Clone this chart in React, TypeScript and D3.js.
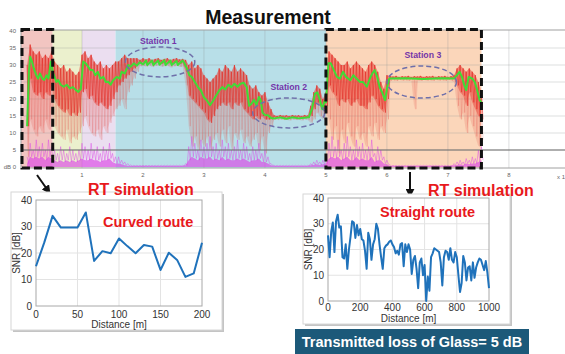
import React from "react";
import * as d3 from "d3";

const W = 565;
const H = 354;
const FONT = "'Liberation Sans', Arial, Helvetica, sans-serif";

// measured SNR, binned (min / dense band / max) every 0.05 x10^4 samples from 0.1
const binStart = 0.1;
const binStep = 0.05;

const redHi = [
  30, 36, 34, 33, 34, 32, 33, 32, 34, 31,
  30, 29, 30, 28, 29, 28, 27, 28, 33, 34,
  32, 33, 31, 30, 31, 29, 30, 29, 30, 31,
  31, 32, 33, 32, 32, 32, 32, 31.5, 32, 31.6,
  32, 31.5, 31.8, 32, 31.5, 31.8, 32, 31.5, 31.8, 32,
  31.6, 31.8, 31.5, 30, 31, 29, 30, 29, 27, 26,
  25, 26, 27, 29, 28, 30, 29, 28, 30, 28,
  29, 28, 27, 24, 23, 24, 22, 21, 22, 19,
  17, 15.2, 15.0, 15.3, 15.1, 15.2, 15.0, 15.3, 15.1, 15.2,
  15.0, 15.3, 15.1, 18, 22, 24, 23, 20, 22, 34,
  33, 32, 31, 30, 30, 31, 29, 30, 31, 30,
  29, 28, 30, 31, 30, 28, 25, 23, 27, 26.8,
  26.6, 26.8, 26.5, 26.7, 26.6, 26.8, 26.5, 26.7, 26.6, 26.8,
  26.5, 26.7, 26.6, 26.8, 26.5, 26.7, 26.6, 26.8, 26.5, 26.7,
  27, 29, 30, 29, 28, 29, 28, 27, 25, 22,
];
const redCore = [
  12, 26, 22, 21, 22, 20, 22, 21, 24, 20,
  18, 17, 16, 17, 15, 16, 15, 16, 22, 23,
  20, 21, 19, 18, 19, 18, 17, 18, 20, 22,
  24, 25, 26, 27, 28, 29, 30, 30.5, 30.8, 30.4,
  30.9, 30.3, 30.7, 30.9, 30.4, 30.6, 30.8, 30.2, 30.6, 30.8,
  30.4, 30.5, 28, 21, 20, 19, 18, 17, 16, 14,
  13, 15, 17, 18, 19, 18, 19, 17, 19, 18,
  19, 17, 16, 15, 14, 15, 14, 15, 14, 14,
  14, 14.6, 14.4, 14.7, 14.5, 14.6, 14.4, 14.7, 14.5, 14.6,
  14.4, 14.7, 14.5, 15, 17, 19, 18, 17, 18, 24,
  22, 21, 18, 20, 19, 20, 18, 19, 20, 18,
  18, 17, 19, 21, 20, 18, 17, 16, 20, 26,
  26, 26.1, 25.9, 26, 26.1, 25.9, 26, 26.1, 25.9, 26,
  26, 26.1, 25.9, 26, 26.1, 25.9, 26, 26.1, 25.9, 26,
  26, 24, 22, 21, 18, 22, 19, 17, 15, 14,
];
const redLo = [
  3, 14, 11, 9, 12, 10, 14, 11, 16, 12,
  10, 9, 8, 11, 7, 9, 8, 10, 12, 15,
  12, 10, 9, 11, 8, 12, 10, 13, 15, 17,
  18, 20, 17, 22, 24, 26, 28, 29.6, 29.8, 29.5,
  29.9, 29.4, 29.8, 29.9, 29.5, 29.6, 29.8, 29.3, 29.6, 29.8,
  29.4, 29.5, 24, 12, 6, 9, 5, 8, 6, 9,
  5, 8, 10, 6, 11, 7, 12, 5, 10, 8,
  11, 7, 9, 6, 8, 10, 5, 9, 4, 10,
  12, 13.9, 13.8, 14.0, 13.8, 13.9, 13.7, 14.0, 13.8, 13.9,
  13.7, 14.0, 13.8, 13, 14, 16, 15, 14, 16, 14,
  8, 12, 4, 11, 7, 13, 9, 6, 12, 8,
  10, 6, 12, 9, 13, 8, 12, 10, 14, 25.4,
  25.5, 25.3, 25.6, 25.4, 25.5, 25.3, 25.6, 17, 25.5, 25.3,
  25.6, 25.4, 25.5, 25.3, 25.6, 25.4, 25.5, 25.3, 25.6, 25.4,
  25, 18, 14, 16, 10, 15, 12, 9, 6, 8,
];
// interference level (magenta trace)
const magHi = [
  3, 7, 5, 8, 6, 7, 5, 8, 6, 5,
  4, 6, 5, 4, 6, 5, 4, 5, 7, 6,
  5, 7, 5, 6, 4, 6, 5, 7, 4, 3,
  3, 2, 1.5, 1, 0.6, 0.5, 0.5, 0.5, 0.5, 0.5,
  0.5, 0.5, 0.5, 0.5, 0.5, 0.5, 0.5, 0.5, 0.5, 0.5,
  0.5, 0.5, 1, 6, 9, 7, 5, 8, 6, 7,
  9, 6, 7, 5, 8, 6, 7, 5, 6, 8,
  5, 7, 6, 4, 6, 5, 7, 4, 5, 3,
  1, 0.5, 0.5, 0.5, 0.5, 0.5, 0.5, 0.5, 0.5, 0.5,
  0.5, 0.5, 0.5, 1, 1.5, 2, 1.5, 2, 2.5, 7,
  9, 6, 8, 5, 7, 9, 6, 5, 8, 6,
  7, 5, 6, 8, 4, 6, 5, 3, 2, 0.6,
  0.5, 0.5, 0.5, 0.5, 0.5, 0.5, 0.5, 0.5, 0.5, 0.5,
  0.5, 0.5, 0.5, 0.5, 0.5, 0.5, 0.5, 0.5, 0.5, 0.5,
  1, 1.5, 2, 1.5, 2.5, 2, 3, 2.5, 5, 6,
];
const magLo = [
  1, 3, 2.5, 3, 2.5, 3, 2, 3, 2.5, 2,
  1.5, 2, 1.5, 2, 1.5, 2, 1.5, 2, 2.5, 2,
  2, 2.5, 2, 2, 1.5, 2, 2, 2.5, 1.5, 1,
  1, 0.8, 0.5, 0.4, 0.3, 0.3, 0.3, 0.3, 0.3, 0.3,
  0.3, 0.3, 0.3, 0.3, 0.3, 0.3, 0.3, 0.3, 0.3, 0.3,
  0.3, 0.3, 0.5, 2, 3, 2.5, 2, 3, 2.5, 2.5,
  3, 2, 2.5, 2, 3, 2, 2.5, 2, 2, 2.5,
  2, 2.5, 2, 1.5, 2, 2, 2.5, 1.5, 1.5, 1,
  0.5, 0.3, 0.3, 0.3, 0.3, 0.3, 0.3, 0.3, 0.3, 0.3,
  0.3, 0.3, 0.3, 0.5, 0.6, 0.8, 0.6, 0.8, 1, 2.5,
  3, 2.5, 3, 2, 2.5, 3, 2, 2, 3, 2,
  2.5, 2, 2, 3, 1.5, 2, 2, 1, 0.8, 0.3,
  0.3, 0.3, 0.3, 0.3, 0.3, 0.3, 0.3, 0.3, 0.3, 0.3,
  0.3, 0.3, 0.3, 0.3, 0.3, 0.3, 0.3, 0.3, 0.3, 0.3,
  0.5, 0.6, 0.8, 0.6, 1, 0.8, 1, 1, 1.5, 2,
];
// smoothed SNR (green trace)
const greenU = [
  0.1, 0.13, 0.15, 0.18, 0.21, 0.25, 0.28, 0.31, 0.35, 0.38, 0.42, 0.45, 0.49, 0.52, 0.55, 0.58,
  0.61, 0.65, 0.7, 0.75, 0.8, 0.85, 0.9, 0.94, 0.98, 1.02, 1.06, 1.1, 1.14, 1.18, 1.22, 1.26,
  1.3, 1.35, 1.39, 1.43, 1.47, 1.51, 1.57, 1.62, 1.65, 1.7, 1.76, 1.8, 1.85, 1.9, 1.95, 2.0,
  2.05, 2.07, 2.15, 2.17, 2.25, 2.27, 2.35, 2.37, 2.45, 2.47, 2.55, 2.57, 2.65, 2.68, 2.72, 2.76,
  2.8, 2.85, 2.9, 2.95, 3.0, 3.05, 3.1, 3.15, 3.2, 3.25, 3.3, 3.35, 3.4, 3.45, 3.5, 3.55,
  3.6, 3.65, 3.7, 3.74, 3.78, 3.82, 3.86, 3.9, 3.93, 3.96, 4.0, 4.05, 4.1, 4.16, 4.25, 4.35,
  4.45, 4.55, 4.65, 4.72, 4.77, 4.82, 4.86, 4.9, 4.94, 4.98, 5.0, 5.04, 5.08, 5.13, 5.18, 5.23,
  5.28, 5.33, 5.4, 5.45, 5.5, 5.56, 5.61, 5.67, 5.72, 5.76, 5.8, 5.84, 5.88, 5.92, 5.97, 6.01,
  6.04, 6.3, 6.6, 6.9, 7.1, 7.15, 7.19, 7.23, 7.27, 7.3, 7.34, 7.4, 7.44, 7.48, 7.52, 7.55,
];
const greenDb = [
  12, 28, 32.4, 31, 29, 27, 26, 27.5, 26, 25.6, 27, 26, 31, 28, 26.5, 25,
  25.6, 24.2, 23.6, 24.2, 23.1, 23.5, 22.6, 22.1, 23, 31, 30.5, 29.5, 28.5, 28.5, 27, 28,
  26, 26.5, 25, 25.1, 24.2, 25.5, 26.5, 26, 28, 27.5, 30, 29.5, 30.5, 29.8, 30.8, 30.2,
  31.3, 30, 31.3, 30, 31.3, 30.1, 31.4, 30, 31.3, 30, 31.2, 30, 31.3, 30.5, 29, 27,
  26.5, 25, 23.5, 22.5, 20.5, 19.5, 18.2, 19.5, 21, 22.5, 23.5, 22.8, 24.2, 23.5, 24.5, 23.6,
  24.5, 24.8, 23.5, 18, 18.6, 19.8, 18.2, 20.6, 19.7, 16, 15.3, 15.2, 14.4, 14.3, 14.6, 14.2,
  14.6, 14.3, 14.5, 14.6, 17, 21.5, 22, 19.7, 17, 19.5, 19, 30.5, 30.5, 28.5, 26.5, 26,
  28, 26.5, 25.5, 27, 26, 25, 25, 23.6, 26, 27.5, 28.5, 26.5, 23.5, 22, 19.7, 24,
  26, 26.1, 25.9, 26.1, 26, 27, 28, 26.5, 24, 22.6, 26.5, 26, 25, 22.6, 19.7, 19,
];
const zoneEdges = [0, 0.52, 1.0, 1.55, 5.0, 7.55];
const topXTicks = [1, 2, 3, 4, 5, 6, 7, 8];
const topYTicks = [0, 5, 10, 15, 20, 25, 30, 35, 40];
const stationNames = ["Station 1", "Station 2", "Station 3"];

// RT simulation results
const curvedDist = [0, 10, 20, 30, 40, 50, 60, 70, 80, 90, 100, 110, 120, 130, 140, 150, 160, 170, 180, 190, 200];
const curvedSnr = [15, 24, 34, 29.6, 29.6, 29.6, 35.3, 17, 20.7, 19.9, 25.5, 22.6, 19.9, 23, 22.4, 13.6, 20.1, 17.4, 11, 12.3, 23.9];
const curvedTicks = [0, 50, 100, 150, 200];
const straightDist = d3.range(0, 1001, 10);
const straightSnr = [
  25.5, 17, 27, 30.5, 19, 31, 33.5, 28.5, 29, 17, 16.5,
  22, 12.5, 20, 25, 31, 30.5, 24.5, 29.5, 25.5, 28,
  24, 23.5, 19.5, 12.5, 26.5, 24, 16, 22, 24, 30,
  28, 22, 17, 12.5, 20.5, 21.5, 22, 23, 23.5, 22,
  21, 18.5, 19.5, 18, 22, 22.5, 13.5, 22, 19, 22,
  20, 10.5, 16, 17.5, 12.5, 5, 15, 16.5, 10, 14,
  0, 9.5, 4, 17, 18.5, 20.5, 20, 19.5, 19, 15,
  6, 17, 19.5, 19, 16, 20.5, 16, 15, 19, 17,
  10, 3.5, 7, 17.5, 15, 8, 13, 13.5, 8, 15,
  9, 13, 15, 16.5, 16, 14, 12, 15.5, 11, 5,
];
const straightTicks = [0, 200, 400, 600, 800, 1000];
const snrTicks = [0, 10, 20, 30, 40];

type Box = { x: number; y: number; w: number; h: number };
type Plot = { l: number; r: number; t: number; b: number };

const SnrPanel = ({ frame, plot, dist, snr, xTicks, labelY, titleY }: {
  frame: Box; plot: Plot; dist: number[]; snr: number[]; xTicks: number[]; labelY: number; titleY: number;
}) => {
  const x = d3.scaleLinear().domain([0, xTicks[xTicks.length - 1]]).range([plot.l, plot.r]);
  const y = d3.scaleLinear().domain([0, 40]).range([plot.b, plot.t]);
  const line = d3.line<number>().x((_, i) => x(dist[i])).y((d) => y(d));
  return (
    <g>
      <rect x={frame.x + 2} y={frame.y + 2} width={frame.w} height={frame.h} fill="#c4c4c4" />
      <rect x={frame.x} y={frame.y} width={frame.w} height={frame.h} fill="#fff" stroke="#d6d6d6" />
      {xTicks.slice(1, -1).map((t) => (
        <line key={"gx" + t} x1={x(t)} x2={x(t)} y1={plot.t} y2={plot.b} stroke="#e3e3e3" />
      ))}
      {snrTicks.slice(1, -1).map((t) => (
        <line key={"gy" + t} x1={plot.l} x2={plot.r} y1={y(t)} y2={y(t)} stroke="#e3e3e3" />
      ))}
      <rect x={plot.l} y={plot.t} width={plot.r - plot.l} height={plot.b - plot.t} fill="none" stroke="#a8a8a8" />
      <path d={line(snr) ?? ""} fill="none" stroke="#1f72bb" strokeWidth={2} strokeLinejoin="round" />
      {xTicks.map((t) => (
        <text key={"tx" + t} x={x(t)} y={labelY} fontSize={10} textAnchor="middle" fill="#333">{t}</text>
      ))}
      {snrTicks.map((t) => (
        <text key={"ty" + t} x={plot.l - 4} y={y(t) + 3.5} fontSize={10} textAnchor="end" fill="#333">{t}</text>
      ))}
      <text x={(plot.l + plot.r) / 2} y={titleY} fontSize={10} textAnchor="middle" fill="#333">Distance [m]</text>
      <text transform={`translate(${plot.l - 16},${(plot.t + plot.b) / 2}) rotate(-90)`} fontSize={10} textAnchor="middle" fill="#333">SNR [dB]</text>
    </g>
  );
};

export default function App() {
  const x = d3.scaleLinear().domain([0, 8.92]).range([21, 565]);
  const y = d3.scaleLinear().domain([0, 40]).range([167, 31]);
  const half = binStep / 2;
  const bins = redHi.map((_, i) => binStart + i * binStep);

  const pt = d3.line<[number, number]>().x((d) => x(d[0])).y((d) => y(d[1]));
  const band = (lo: number[], hi: number[]) =>
    d3.area<number>().x((u) => x(u)).y0((_, i) => y(lo[i])).y1((_, i) => y(hi[i]))(bins) ?? "";
  const zig = (a: number[], b: number[]) =>
    pt(bins.flatMap((u, i) => [[u, a[i]], [u + half, b[i]]] as [number, number][])) ?? "";
  const zeros = bins.map(() => 0);
  const green = pt(greenU.map((u, i) => [u, greenDb[i]] as [number, number])) ?? "";

  const zoneColors = ["#f2c5c1", "#ebf0cd", "#ebdef0", "#b8dfe8", "#fbd6ba"];
  const ellipses = [
    { u: 2.28, db: 30.9, ru: 0.57, rdb: 4.4, lu: 2.25, ldb: 37.2 },
    { u: 4.39, db: 15.9, ru: 0.59, rdb: 4.4, lu: 4.39, ldb: 23.4 },
    { u: 6.57, db: 25, ru: 0.57, rdb: 4.7, lu: 6.59, ldb: 33.0 },
  ];
  const px = (u: number) => x(u) - x(0);
  const py = (d: number) => y(0) - y(d);

  return (
    <svg width={W} height={H} fontFamily={FONT} style={{ position: "absolute", left: 0, top: 0, background: "#fff" }}>
      <defs>
        <marker id="arrow" viewBox="0 0 10 10" refX="7" refY="5" markerWidth="4.5" markerHeight="4.5" orient="auto">
          <path d="M0,0 L10,5 L0,10 z" fill="#111" />
        </marker>
      </defs>
      <rect width={W} height={H} fill="#fff" />

      {/* measurement panel */}
      <text x={268} y={24} fontSize={19.5} fontWeight="bold" textAnchor="middle" fill="#111">Measurement</text>
      {zoneColors.map((c, i) => (
        <rect key={"z" + i} x={x(zoneEdges[i])} y={30} width={x(zoneEdges[i + 1]) - x(zoneEdges[i])} height={138} fill={c} />
      ))}
      {topXTicks.map((t) => (
        <line key={"vx" + t} x1={x(t)} x2={x(t)} y1={30} y2={168} stroke="#8d9296" strokeOpacity={0.3} />
      ))}
      {topYTicks.slice(1, -1).map((t) => (
        <line key={"hy" + t} x1={x(0)} x2={W} y1={y(t)} y2={y(t)} stroke="#8d9296" strokeOpacity={0.3} />
      ))}
      <rect x={x(0)} y={30} width={W - x(0) + 2} height={138} fill="none" stroke="#a0a0a0" />

      <path d={band(redLo, redHi)} fill="#e2473f" fillOpacity={0.18} />
      <path d={zig(redHi, redLo)} fill="none" stroke="#e2473f" strokeWidth={0.5} strokeOpacity={0.4} />
      <path d={band(redCore, redHi)} fill="#e8352b" fillOpacity={0.4} />
      <path d={zig(redHi, redCore)} fill="none" stroke="#e3302a" strokeWidth={0.8} strokeOpacity={0.75} />
      <path d={green} fill="none" stroke="#3fdc36" strokeWidth={2} strokeLinejoin="round" />
      <path d={band(zeros, magLo)} fill="#dc45e6" fillOpacity={0.65} />
      <path d={zig(magHi, magLo)} fill="none" stroke="#dc45e6" strokeWidth={0.6} strokeOpacity={0.75} />
      <line x1={x(0)} x2={W} y1={y(5)} y2={y(5)} stroke="#6e6e6e" strokeWidth={1.2} />

      {ellipses.map((e, i) => (
        <g key={"st" + i}>
          <ellipse cx={x(e.u)} cy={y(e.db)} rx={px(e.ru)} ry={py(e.rdb)} fill="none" stroke="#6f70aa" strokeWidth={1.5} strokeDasharray="5 3" />
          <text x={x(e.lu)} y={y(e.ldb) + 3} fontSize={8.7} fontWeight="bold" textAnchor="middle" fill="#7434a8">{stationNames[i]}</text>
        </g>
      ))}

      <rect x={x(0) + 1} y={29.5} width={x(zoneEdges[1]) - x(0) - 1} height={138.5} fill="none" stroke="#111" strokeWidth={3} strokeDasharray="8 4" />
      <rect x={x(zoneEdges[4])} y={29.5} width={x(zoneEdges[5]) - x(zoneEdges[4])} height={138.5} fill="none" stroke="#111" strokeWidth={3} strokeDasharray="8 4" />

      {topYTicks.map((t) => (
        <text key={"ly" + t} x={16} y={y(t) + 2} fontSize={6} textAnchor="end" fill="#666">{t === 0 ? "dB  0" : t}</text>
      ))}
      {topXTicks.map((t) => (
        <text key={"lx" + t} x={x(t)} y={177} fontSize={6} textAnchor="middle" fill="#666">{t}</text>
      ))}
      <text x={557} y={179} fontSize={6} fill="#666">x 1</text>

      {/* arrows */}
      <line x1={37} y1={175} x2={49} y2={192} stroke="#111" strokeWidth={2} markerEnd="url(#arrow)" />
      <line x1={410} y1={172} x2={410} y2={195} stroke="#111" strokeWidth={2} markerEnd="url(#arrow)" />

      {/* RT simulation panels */}
      <SnrPanel frame={{ x: 11, y: 192, w: 211, h: 138 }} plot={{ l: 36, r: 202, t: 200, b: 306 }}
        dist={curvedDist} snr={curvedSnr} xTicks={curvedTicks} labelY={318} titleY={328} />
      <SnrPanel frame={{ x: 303, y: 194, w: 207, h: 130 }} plot={{ l: 328, r: 489, t: 198, b: 301 }}
        dist={straightDist} snr={straightSnr} xTicks={straightTicks} labelY={311} titleY={322} />

      <text x={88} y={195} fontSize={16} fontWeight="bold" fill="#e8191c">RT simulation</text>
      <text x={103} y={227} fontSize={14.5} fontWeight="bold" fill="#e8191c">Curved route</text>
      <text x={428} y={196} fontSize={16} fontWeight="bold" fill="#e8191c">RT simulation</text>
      <text x={380} y={217} fontSize={14.5} fontWeight="bold" fill="#e8191c">Straight route</text>

      <rect x={295} y={329} width={234} height={25} fill="#1c5979" />
      <text x={412} y={347} fontSize={14.5} fontWeight="bold" textAnchor="middle" fill="#fff">Transmitted loss of Glass= 5 dB</text>
    </svg>
  );
}
